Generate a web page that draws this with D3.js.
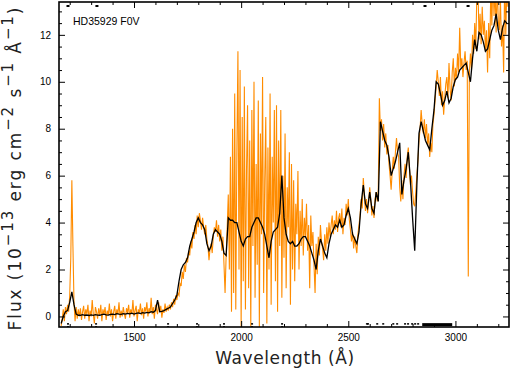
<!DOCTYPE html>
<html>
<head>
<meta charset="utf-8">
<script src="https://cdn.jsdelivr.net/npm/d3@7"></script>
<style>
  html, body { margin: 0; padding: 0; background: #fff; }
  svg text { font-family: "Liberation Sans", Arial, sans-serif; }
</style>
</head>
<body>
<div id="chart"></div>
<script>
// smoothed spectrum (black), one value every 10 A starting at 1160 A
const blackStart = 1160, blackStep = 10;
const blackFlux = [
  -0.3, 0.0, 0.2, 0.25, 0.6, 1.05, 0.5, 0.1, 0.05, 0.05,
  0.08, 0.05, 0.06, 0.04, 0.07, 0.05, 0.08, 0.06, 0.05, 0.08,
  0.1, 0.07, 0.06, 0.09, 0.1, 0.08, 0.12, 0.1, 0.09, 0.12,
  0.1, 0.13, 0.11, 0.14, 0.1, 0.13, 0.15, 0.12, 0.16, 0.14,
  0.17, 0.15, 0.2, 0.18, 0.25, 0.7, 0.2, 0.22, 0.25, 0.3,
  0.35, 0.4, 0.55, 0.7, 0.9, 1.5, 2.0, 2.2, 2.3, 2.5,
  3.0, 3.3, 3.6, 4.0, 4.2, 4.0, 3.9, 3.7, 3.1, 2.8,
  3.0, 3.5, 3.7, 3.6, 3.5, 3.2, 2.7, 2.6, 4.2, 4.1,
  4.1, 4.0, 4.0, 3.6, 3.2, 3.0, 3.3, 3.4, 3.4, 3.8,
  4.0, 4.2, 4.2, 4.0, 3.8, 3.5, 3.0, 2.5, 3.2, 3.6,
  3.7, 3.8, 4.4, 6.0, 4.2, 3.5, 3.2, 3.1, 3.2, 3.0,
  3.0, 3.1, 3.3, 3.4, 3.4, 3.2, 3.0, 2.7, 2.4, 2.0,
  2.8, 3.3, 3.0, 2.7, 2.5, 3.1, 3.5, 3.7, 3.9, 3.8,
  4.1, 3.8, 3.9, 4.3, 4.6, 4.2, 3.5, 3.3, 3.1, 3.6,
  4.8, 5.6, 4.8, 4.6, 5.3, 4.6, 4.4, 5.3, 4.9, 8.3,
  7.9, 7.5, 7.3, 6.8, 6.0, 6.3, 6.6, 7.0, 7.4, 5.2,
  5.8, 6.3, 7.0, 5.8, 4.2, 2.8, 5.6, 7.8, 8.3, 7.9,
  7.5, 7.3, 7.1, 8.0, 8.8, 10.0, 9.9, 9.5, 9.0, 9.2,
  9.6, 9.1, 9.3, 9.8, 10.1, 10.2, 10.5, 10.6, 10.7, 10.8,
  10.4, 10.0, 11.0, 11.8, 11.3, 12.1, 12.0, 11.7, 11.3, 11.4,
  11.8, 12.2, 12.4, 12.9, 12.2, 11.8, 12.3, 12.6, 12.5
];

// observed spectrum (orange), one value every 5 A starting at 1160 A
const orangeStart = 1160, orangeStep = 5;
const orangeFlux = [
  -0.4, -0.1, 0.3, -0.2, 0.4, 0.1, 0.5, 0.2, 0.9, 2.5, 5.8, 3.0, 0.6, -0.2, 0.4, -0.1, 0.3, 0.0, 0.35, -0.15,
  0.2, 0.45, -0.1, 0.3, 0.1, 0.5, -0.2, 0.25, 0.0, 0.7, 0.1, -0.3, 0.4, 0.2, -0.1, 0.35, 0.05, 0.5, -0.2, 0.3,
  0.1, 0.4, -0.15, 0.25, 0.05, 0.55, 0.0, 0.3, -0.2, 0.2, 0.45, -0.1, 0.3, 0.1, 0.6, -0.05, 0.25, 0.0, 0.4, 0.1,
  -0.1, 0.35, 0.15, 0.5, -0.05, 0.3, 0.1, 0.7, 0.0, 0.25, 0.45, -0.2, 0.3, 0.15, 0.55, 0.05, 0.35, -0.1, 0.4, 0.2,
  0.6, 0.0, 0.35, 0.15, 0.8, 0.1, 0.4, -0.1, 0.5, 0.3, 0.1, 0.6, 0.2, 0.45, -0.05, 0.3, 0.15, 0.55, 0.2, 0.4,
  0.25, 0.5, 0.3, 0.6, 0.4, 0.75, 0.5, 0.9, 0.7, 1.0, 0.9, 1.4, 1.3, 1.9, 1.6, 2.2, 1.9, 2.5, 2.3, 2.8,
  2.6, 3.2, 2.9, 3.6, 3.3, 3.9, 3.5, 4.3, 3.8, 4.4, 4.1, 3.7, 4.2, 3.8, 3.5, 3.9, 3.3, 3.0, 2.4, 2.9,
  3.1, 2.7, 3.4, 3.8, 3.6, 4.1, 3.4, 3.9, 3.2, 3.7, 2.8, 3.4, 2.2, 1.0, 2.6, 3.8, 5.2, 2.0, 6.8, 0.2,
  8.0, 1.0, 9.5, 0.3, 7.0, 11.3, 2.0, 10.5, -0.5, 8.5, 1.5, 9.8, 0.3, 6.2, 9.0, 1.2, 7.5, -0.5, 8.8, 3.0,
  10.0, 0.8, 6.5, 2.2, 9.2, -0.5, 7.8, 3.5, 10.2, 1.0, 5.8, 8.5, -0.3, 7.2, 2.0, 9.5, 0.5, 6.8, 4.0, 8.8,
  1.5, 9.0, 0.2, 7.5, 3.0, 8.8, 0.8, 6.0, 2.5, 7.8, 1.2, 5.5, 3.8, 7.0, 0.5, 6.5, 2.0, 5.8, 1.5, 4.8,
  3.5, 6.2, 2.0, 4.5, 3.0, 5.0, 2.6, 4.2, 3.4, 4.8, 2.8, 3.9, 1.2, 4.3, 3.0, 3.6, 2.2, 1.0, 3.1, 1.8,
  3.4, 2.6, 3.9, 3.2, 2.9, 2.4, 3.5, 2.8, 3.8, 3.1, 4.0, 3.4, 3.9, 4.3, 3.5, 4.1, 3.7, 4.5, 3.6, 4.2,
  4.4, 3.8, 4.6, 3.5, 4.2, 3.9, 4.8, 4.3, 5.0, 4.1, 3.7, 3.2, 3.6, 2.9, 3.4, 3.0, 2.7, 3.5, 3.9, 4.3,
  5.0, 4.6, 5.9, 5.2, 4.5, 5.0, 4.4, 4.9, 5.5, 5.0, 4.3, 4.7, 4.2, 5.0, 5.3, 4.9, 5.4, 9.3, 7.9, 8.4,
  7.5, 8.2, 7.2, 7.8, 6.9, 7.3, 6.5, 6.0, 5.4, 6.2, 6.8, 6.3, 7.0, 7.6, 7.0, 6.8, 5.5, 4.9, 5.8, 5.0,
  6.0, 6.5, 5.9, 6.8, 7.2, 6.4, 5.6, 6.0, 5.3, 4.8, 4.7, 5.3, 6.0, 6.6, 7.5, 8.0, 8.8, 8.2, 7.8, 8.4,
  7.6, 8.2, 7.3, 7.8, 6.8, 7.4, 7.0, 8.2, 8.6, 9.2, 9.8, 10.5, 10.0, 9.4, 10.2, 9.0, 9.6, 8.6, 9.3, 9.9,
  10.2, 9.3, 10.8, 9.7, 9.2, 10.4, 11.0, 9.8, 10.6, 10.1, 11.2, 10.4, 12.3, 10.6, 11.0, 10.2, 10.8, 11.3, 10.5, 10.9,
  1.7, 10.4, 11.2, 10.5, 12.0, 11.2, 12.5, 11.4, 13.8, 14.2, 11.8, 12.9, 11.6, 13.2, 12.0, 12.6, 11.3, 12.2, 10.4, 12.5,
  11.0, 14.0, 12.4, 14.5, 12.8, 13.9, 12.1, 14.2, 12.6, 12.2, 13.5, 11.5, 12.4, 10.4, 14.6, 12.0, 14.0, 13.2
];

const xMajorTicks = [1500, 2000, 2500, 3000];
const yMajorTicks = [0, 2, 4, 6, 8, 10, 12];
const starLabel = "HD35929 F0V";

// data-quality flags along bottom and top edges
const bottomFlags = [1192, 1323, 1659, 1794, 1920, 2051, 2191, 2587, 2592, 2635, 2663, 2710, 2728, 2765, 2779, 2798, 2812, 2826];
const bottomBand = [2845, 2985];
const topFlags = [1192, 1327, 2858, 3059];

const W = 511, H = 372;
const plot = { left: 59, right: 509, top: 2, bottom: 327 };

const svg = d3.select('#chart').append('svg')
    .attr('width', W)
    .attr('height', H);

const x = d3.scaleLinear().domain([1150, 3250]).range([plot.left, plot.right]);
const y = d3.scaleLinear().domain([-0.45, 13.4]).range([plot.bottom, plot.top]);

svg.append('clipPath').attr('id', 'clip')
    .append('rect')
    .attr('x', plot.left).attr('y', plot.top)
    .attr('width', plot.right - plot.left).attr('height', plot.bottom - plot.top);

const orangeData = orangeFlux.map((v, i) => ({ w: orangeStart + i * orangeStep, f: v }));
const blackData = blackFlux.map((v, i) => ({ w: blackStart + i * blackStep, f: v }));

const line = d3.line().x(d => x(d.w)).y(d => y(d.f));

const g = svg.append('g').attr('clip-path', 'url(#clip)');

g.append('path')
    .datum(orangeData)
    .attr('d', line)
    .attr('fill', 'none')
    .attr('stroke', '#ff8c00')
    .attr('stroke-width', 1.1);

g.append('path')
    .datum(blackData)
    .attr('d', line)
    .attr('fill', 'none')
    .attr('stroke', '#000')
    .attr('stroke-width', 1.3);

// flags
g.selectAll('.bflag').data(bottomFlags).enter().append('rect')
    .attr('x', d => x(d) - 1).attr('y', y(-0.2) + 2)
    .attr('width', 2).attr('height', 1.5).attr('fill', '#000');
g.selectAll('.bflag2').data(bottomFlags.slice(0, 7)).enter().append('rect')
    .attr('x', d => x(d) - 1).attr('y', y(-0.2) + 5)
    .attr('width', 2).attr('height', 1.5).attr('fill', '#000');
g.append('rect')
    .attr('x', x(bottomBand[0])).attr('y', y(-0.2) + 2)
    .attr('width', x(bottomBand[1]) - x(bottomBand[0])).attr('height', 3)
    .attr('fill', '#000');
g.selectAll('.tflag').data(topFlags).enter().append('rect')
    .attr('x', d => x(d) - 1.5).attr('y', 5)
    .attr('width', 3).attr('height', 2).attr('fill', '#000');

// axes with inward ticks
const xMinor = d3.range(1200, 3250, 100).filter(v => v % 500 !== 0);
const yMinor = d3.range(0, 13.5, 0.5).filter(v => v % 2 !== 0);

function styleAxis(sel) {
    sel.select('.domain').remove();
    sel.selectAll('line').attr('stroke', '#000').attr('stroke-width', 1);
    sel.selectAll('text').attr('font-size', 10).attr('fill', '#000');
}

svg.append('g').attr('transform', `translate(0,${plot.bottom})`)
    .call(d3.axisBottom(x).tickValues(xMajorTicks).tickSize(-6).tickPadding(7).tickFormat(d3.format('d')))
    .call(styleAxis);
svg.append('g').attr('transform', `translate(0,${plot.bottom})`)
    .call(d3.axisBottom(x).tickValues(xMinor).tickSize(-3).tickFormat(''))
    .call(styleAxis);
svg.append('g').attr('transform', `translate(0,${plot.top})`)
    .call(d3.axisTop(x).tickValues(xMajorTicks).tickSize(-6).tickFormat(''))
    .call(styleAxis);
svg.append('g').attr('transform', `translate(0,${plot.top})`)
    .call(d3.axisTop(x).tickValues(xMinor).tickSize(-3).tickFormat(''))
    .call(styleAxis);

svg.append('g').attr('transform', `translate(${plot.left},0)`)
    .call(d3.axisLeft(y).tickValues(yMajorTicks).tickSize(-6).tickPadding(8))
    .call(styleAxis);
svg.append('g').attr('transform', `translate(${plot.left},0)`)
    .call(d3.axisLeft(y).tickValues(yMinor).tickSize(-3).tickFormat(''))
    .call(styleAxis);
svg.append('g').attr('transform', `translate(${plot.right},0)`)
    .call(d3.axisRight(y).tickValues(yMajorTicks).tickSize(-6).tickFormat(''))
    .call(styleAxis);
svg.append('g').attr('transform', `translate(${plot.right},0)`)
    .call(d3.axisRight(y).tickValues(yMinor).tickSize(-3).tickFormat(''))
    .call(styleAxis);

// frame
svg.append('rect')
    .attr('x', plot.left).attr('y', plot.top)
    .attr('width', plot.right - plot.left).attr('height', plot.bottom - plot.top)
    .attr('fill', 'none').attr('stroke', '#000').attr('stroke-width', 1.6);

// star label
svg.append('text')
    .attr('x', 73).attr('y', 25)
    .attr('font-size', 10.5)
    .attr('fill', '#000')
    .text(starLabel);

// axis titles
svg.append('text')
    .attr('x', (plot.left + plot.right) / 2 + 1).attr('y', 364)
    .attr('text-anchor', 'middle')
    .style('font-family', '"DejaVu Sans", sans-serif')
    .attr('font-size', 17)
    .attr('fill', '#222')
    .attr('letter-spacing', 0.6)
    .text('Wavelength (Å)');

const yt = svg.append('text')
    .attr('transform', 'translate(21,168) rotate(-90)')
    .attr('text-anchor', 'middle')
    .style('font-family', '"DejaVu Sans", sans-serif')
    .attr('font-size', 17)
    .attr('fill', '#222')
    .attr('letter-spacing', 1.9);
const parts = [
    ['Flux (10', 0], ['−13', 1], [' erg cm', 0], ['−2', 1], [' s', 0], ['−1', 1], [' Å', 0], ['−1', 1], [')', 0]
];
parts.forEach(([t, sup]) => {
    yt.append('tspan')
        .attr('baseline-shift', sup ? '55%' : null)
        .attr('font-size', sup ? 15 : 17)
        .text(t);
});
</script>
</body>
</html>
